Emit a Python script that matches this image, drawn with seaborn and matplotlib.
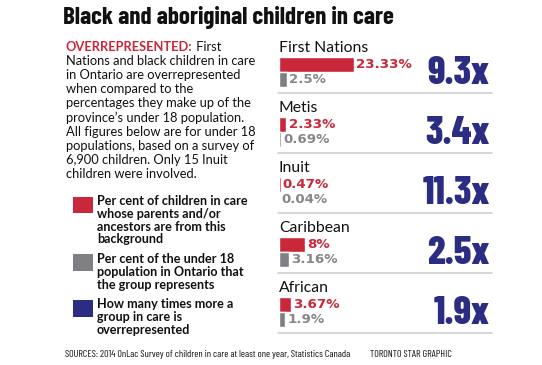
import matplotlib
matplotlib.use("Agg")
import matplotlib.pyplot as plt
from matplotlib import font_manager
from matplotlib.patches import Rectangle
import seaborn as sns
import pandas as pd

# ---------------- data ----------------
groups = ["First Nations", "Metis", "Inuit", "Caribbean", "African"]
in_care = [23.33, 2.33, 0.47, 8, 3.67]          # % of children in care
population = [2.5, 0.69, 0.04, 3.16, 1.9]      # % of under-18 population
multiplier = ["9.3x", "3.4x", "11.3x", "2.5x", "1.9x"]
series_names = ["In care", "Population"]

title = "Black and aboriginal children in care"
intro_lead = "OVERREPRESENTED:"
intro_lines = [
    " First",
    "Nations and black children in care",
    "in Ontario are overrepresented",
    "when compared to the",
    "percentages they make up of the",
    "province\u2019s under 18 population.",
    "All figures below are for under 18",
    "populations, based on a survey of",
    "6,900 children. Only 15 Inuit",
    "children were involved.",
]
legend_texts = [
    ["Per cent of children in care", "whose parents and/or", "ancestors are from this", "background"],
    ["Per cent of the under 18", "population in Ontario that", "the group represents"],
    ["How many times more a", "group in care is", "overrepresented"],
]
source_text = "SOURCES: 2014 OnLac Survey of children in care at least one year, Statistics Canada"
credit_text = "TORONTO STAR GRAPHIC"

RED = "#c9283a"
GRAY = "#808084"
GRAY_TXT = "#86878a"
BLUE = "#2b2d83"

available = set(f.name for f in font_manager.fontManager.ttflist)


def pick(cands, default="DejaVu Sans"):
    for c in cands:
        if c in available:
            return c
    return default


NARROW = pick(["Barlow Condensed", "Roboto Condensed", "Fira Sans Condensed",
               "Asap Condensed", "Archivo Narrow"])
BODY = pick(["Lato", "Noto Sans"])

sns.set_theme(style="white")
plt.rcParams["font.family"] = [BODY, "DejaVu Sans"]

W, H = 542, 365
fig = plt.figure(figsize=(W / 100, H / 100), dpi=100)
fig.patch.set_facecolor("white")


def fx(px):
    return px / W


def fy(py):
    return 1 - py / H


# ---------------- bars ----------------
ax = fig.add_axes([fx(279), fy(342), fx(213), 300 / H])
df = pd.DataFrame({
    "group": groups * 2,
    "series": [series_names[0]] * len(groups) + [series_names[1]] * len(groups),
    "value": in_care + population,
})
sns.barplot(data=df, y="group", x="value", hue="series", orient="h",
            palette=[RED, GRAY], width=0.5, saturation=1, legend=False,
            order=groups, hue_order=series_names, ax=ax)
ax.set_xlim(0, 213 / 3.2)
ax.set_ylim(4.5, -0.5)
ax.axis("off")

for cont, vals, col in zip(ax.containers, [in_care, population], [RED, GRAY_TXT]):
    ax.bar_label(cont, labels=[f"{v:g}%" for v in vals], padding=1.5, color=col,
                 fontsize=9.6, fontweight="bold", family="DejaVu Sans")

ytr = ax.get_yaxis_transform()
for i, (g, m) in enumerate(zip(groups, multiplier)):
    ax.text(0, i - 0.34, g, va="baseline", ha="left", fontsize=11.3, color="#111111")
    ax.text(0.99, i + 0.02, m, transform=ytr, ha="right", va="center",
            fontsize=28, fontweight="heavy", color=BLUE, family=NARROW)
    ax.plot([-0.004, 1.0], [i + 0.35, i + 0.35], transform=ytr, color="#cfcfcf",
            lw=1.2, clip_on=False)

# ---------------- title ----------------
fig.text(fx(63), fy(24), title, fontsize=18, fontweight="bold", family=NARROW,
         va="baseline", ha="left", color="#111111")

# ---------------- intro paragraph ----------------
renderer = fig.canvas.get_renderer()
lead = fig.text(fx(66), fy(51), intro_lead, fontsize=9.3, fontweight="bold",
                color=RED, va="baseline", ha="left")
bb = lead.get_window_extent(renderer)
fig.text(bb.x1 / W, fy(51), intro_lines[0], fontsize=9.3, color="#111111",
         va="baseline", ha="left")
for k, line in enumerate(intro_lines[1:], start=1):
    fig.text(fx(66), fy(51 + 14.1 * k), line, fontsize=9.3, color="#111111",
             va="baseline", ha="left")

# ---------------- legend ----------------
sq = [(197, 213, RED), (254, 271, GRAY), (300, 317, BLUE)]
base = [205, 263, 308]
for (t0, t1, col), b, lines in zip(sq, base, legend_texts):
    fig.add_artist(Rectangle((fx(73), fy(t1)), fx(20), (t1 - t0) / H,
                             transform=fig.transFigure, facecolor=col,
                             edgecolor="none"))
    for k, line in enumerate(lines):
        fig.text(fx(97), fy(b + 12.8 * k), line, fontsize=9.1, fontweight="bold",
                 color="#111111", va="baseline", ha="left")

# ---------------- footer ----------------
fig.text(fx(65), fy(357), source_text, fontsize=7.3, family=NARROW,
         color="#111111", va="baseline", ha="left")
fig.text(fx(370), fy(357), credit_text, fontsize=7.3, family=NARROW,
         color="#111111", va="baseline", ha="left")

fig.savefig("out.png", dpi=100, facecolor="white")
